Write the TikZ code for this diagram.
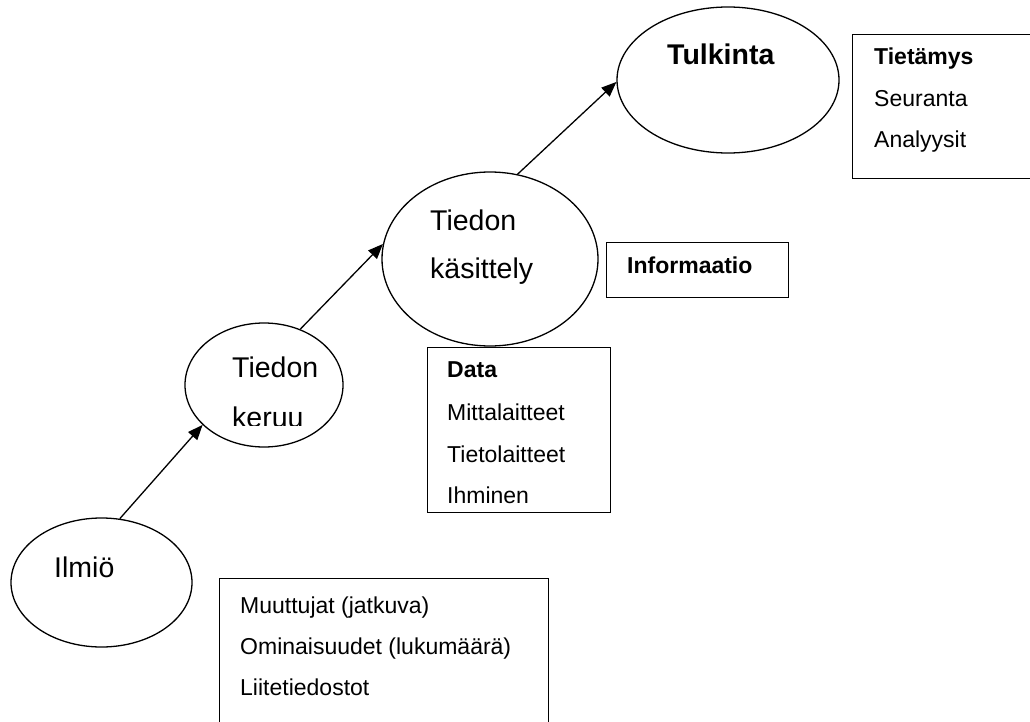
\documentclass[tikz,border=0pt]{standalone}
\usepackage{fontspec}
\setmainfont{Liberation Sans}
\usetikzlibrary{shapes.geometric,arrows.meta}
\begin{document}
\begin{tikzpicture}[x=1pt,y=-1pt,
  oval/.style={draw,ellipse,line width=1.3pt,inner sep=0pt},
  infobox/.style={draw,rectangle,line width=1.3pt,inner sep=0pt,anchor=north west},
  ovaltext/.style={inner sep=0pt,anchor=base west,font=\fontsize{28.5}{30}\selectfont},
  boxtext/.style={inner sep=0pt,anchor=base west,font=\fontsize{23}{25}\selectfont},
  flow/.style={line width=1.3pt,-{Triangle[length=15pt,width=12pt]}}]
\useasboundingbox (0,0) rectangle (1030,722);
\clip (0,0) rectangle (1030,722);

% process stages
\node[oval,minimum width=181pt,minimum height=129pt] (ilmio) at (101.5,582.5) {};
\node[oval,minimum width=158pt,minimum height=124pt] (keruu) at (264,385) {};
\node[oval,minimum width=216pt,minimum height=174pt] (kasittely) at (490,259) {};
\node[oval,minimum width=222pt,minimum height=146pt] (tulkinta) at (728,80) {};

\node[ovaltext] (ilmiot) at (54,577) {Ilmiö};
\node[ovaltext] (keruut1) at (232,377) {Tiedon};
\begin{scope}
  \clip (0,0) rectangle (1030,425);
  \node[ovaltext] (keruut2) at (232,427) {keruu};
\end{scope}
\node[ovaltext] (kasittelyt1) at (430,230) {Tiedon};
\node[ovaltext] (kasittelyt2) at (430,278) {käsittely};
\node[ovaltext,font=\fontsize{28.5}{30}\selectfont\bfseries] (tulkintat) at (667,65) {Tulkinta};

% connectors between stages
\draw[flow] (ilmio.74.4) -- (keruu.213.5);
\draw[flow] (keruu.57) -- (kasittely.172.7);
\draw[flow] (kasittely.72.6) -- (tulkinta.181);

% description boxes
\node[infobox,minimum width=329pt,minimum height=160pt] (ilmiobox) at (219,578) {};
\node[boxtext] (m1) at (240,613) {Muuttujat (jatkuva)};
\node[boxtext] (m2) at (240,654) {Ominaisuudet (lukumäärä)};
\node[boxtext] (m3) at (240,695) {Liitetiedostot};

\node[infobox,minimum width=183pt,minimum height=165pt] (databox) at (427,347) {};
\node[boxtext,font=\fontsize{23}{25}\selectfont\bfseries] (d0) at (447,377) {Data};
\node[boxtext] (d1) at (447,420) {Mittalaitteet};
\node[boxtext] (d2) at (447,462) {Tietolaitteet};
\node[boxtext] (d3) at (447,503) {Ihminen};

\node[infobox,minimum width=182pt,minimum height=55pt] (infobox1) at (606,242) {};
\node[boxtext,font=\fontsize{23}{25}\selectfont\bfseries] (i0) at (627,273) {Informaatio};

\node[infobox,minimum width=200pt,minimum height=144pt] (tietobox) at (852,34) {};
\node[boxtext,font=\fontsize{23}{25}\selectfont\bfseries] (t0) at (874,65) {Tietämys};
\node[boxtext] (t1) at (874,107) {Seuranta};
\node[boxtext] (t2) at (874,148) {Analyysit};
\end{tikzpicture}
\end{document}
